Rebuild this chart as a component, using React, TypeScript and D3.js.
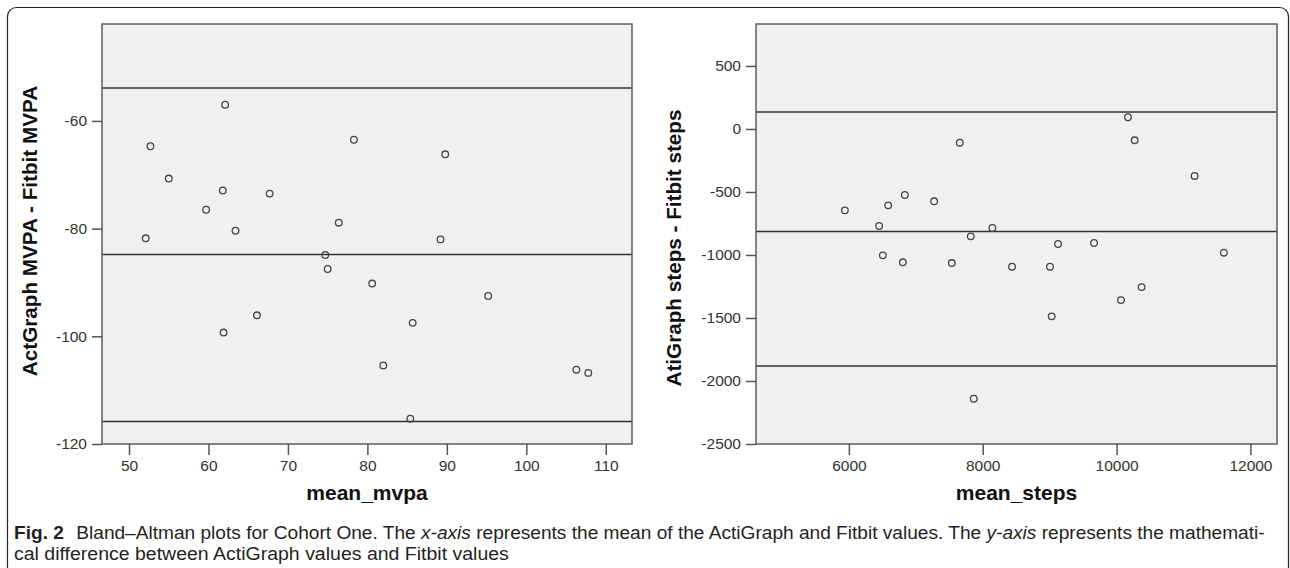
import { useEffect, useRef } from "react";
import * as d3 from "d3";

// left panel: mean of ActiGraph and Fitbit MVPA vs difference
const mvpaMean = [52.7, 62.1, 55.0, 61.8, 67.7, 59.7, 63.4, 76.4, 78.3, 89.8, 52.1, 89.2, 74.7, 75.0, 80.6, 66.1, 61.9, 85.7, 82.0, 85.4, 95.2, 106.3, 107.8];
const mvpaDiff = [-64.7, -57.0, -70.7, -72.9, -73.5, -76.5, -80.4, -78.9, -63.5, -66.2, -81.8, -82.0, -84.9, -87.5, -90.2, -96.1, -99.3, -97.5, -105.4, -115.3, -92.5, -106.2, -106.8];
const mvpaLimits = [-53.9, -84.8, -115.8];
const mvpaXTicks = [50, 60, 70, 80, 90, 100, 110];
const mvpaYTicks = [-60, -80, -100, -120];

// right panel: steps
const stepsMean = [5940, 6587, 6836, 7274, 6452, 7657, 6507, 6806, 7538, 7821, 10170, 10270, 11166, 8144, 9125, 9663, 11603, 8438, 9005, 10374, 10066, 9030, 7866];
const stepsDiff = [-646, -606, -524, -574, -770, -109, -1003, -1058, -1064, -852, 93, -90, -373, -786, -913, -905, -982, -1093, -1093, -1255, -1358, -1487, -2141];
const stepsLimits = [135, -813, -1881];
const stepsXTicks = [6000, 8000, 10000, 12000];
const stepsYTicks = [500, 0, -500, -1000, -1500, -2000, -2500];

const FONT = "'Liberation Sans', Arial, sans-serif";
const CAP_FONT = "'Liberation Sans Narrow', 'Liberation Sans', Arial, sans-serif";

function drawPanel(svg, p) {
    const x = d3.scaleLinear().domain(p.xDomain).range([p.left, p.right]);
    const y = d3.scaleLinear().domain(p.yDomain).range([p.bottom, p.top]);
    const g = svg.append("g");

    g.append("rect")
        .attr("x", p.left).attr("y", p.top)
        .attr("width", p.right - p.left).attr("height", p.bottom - p.top)
        .attr("fill", "#f0f0f0");

    // limits of agreement + mean difference
    g.selectAll(".ref").data(p.limits).enter().append("line")
        .attr("x1", p.left).attr("x2", p.right)
        .attr("y1", d => y(d)).attr("y2", d => y(d))
        .attr("stroke", "#333").attr("stroke-width", 1.5);

    g.selectAll(".pt").data(p.xs).enter().append("circle")
        .attr("cx", d => x(d))
        .attr("cy", (d, i) => y(p.ys[i]))
        .attr("r", 3.3)
        .attr("fill", "none")
        .attr("stroke", "#444")
        .attr("stroke-width", 1.3);

    g.append("rect")
        .attr("x", p.left).attr("y", p.top)
        .attr("width", p.right - p.left).attr("height", p.bottom - p.top)
        .attr("fill", "none").attr("stroke", "#666").attr("stroke-width", 1.6);

    const yAxis = g.append("g")
        .attr("transform", `translate(${p.left},0)`)
        .call(d3.axisLeft(y).tickValues(p.yTicks).tickSize(10).tickPadding(5).tickFormat(d => String(d)));
    const xAxis = g.append("g")
        .attr("transform", `translate(0,${p.bottom})`)
        .call(d3.axisBottom(x).tickValues(p.xTicks).tickSize(11).tickPadding(5).tickFormat(d => String(d)));

    [yAxis, xAxis].forEach(ax => {
        ax.select(".domain").remove();
        ax.selectAll("line").attr("stroke", "#555").attr("stroke-width", 1.5);
        ax.selectAll("text")
            .attr("font-family", FONT)
            .attr("font-size", "15.5px")
            .attr("fill", "#333");
    });

    g.append("text")
        .attr("x", (p.left + p.right) / 2)
        .attr("y", 500)
        .attr("text-anchor", "middle")
        .attr("font-family", FONT)
        .attr("font-weight", "bold")
        .attr("font-size", "21px")
        .attr("fill", "#111")
        .text(p.xTitle);

    g.append("text")
        .attr("transform", `translate(${p.yTitleX},${p.yTitleY}) rotate(-90)`)
        .attr("text-anchor", "middle")
        .attr("font-family", FONT)
        .attr("font-weight", "bold")
        .attr("font-size", "20.7px")
        .attr("fill", "#111")
        .text(p.yTitle);
}

export default function App() {
    const ref = useRef(null);

    useEffect(() => {
        const svg = d3.select(ref.current);
        svg.selectAll("*").remove();

        svg.append("rect")
            .attr("width", 1290).attr("height", 568).attr("fill", "#fff");

        // outer figure frame
        svg.append("rect")
            .attr("x", 7.5).attr("y", 7.5)
            .attr("width", 1281).attr("height", 600)
            .attr("rx", 9)
            .attr("fill", "none").attr("stroke", "#222").attr("stroke-width", 1.2);

        drawPanel(svg, {
            left: 102, right: 632, top: 24, bottom: 444,
            xDomain: [46.6, 113.3], yDomain: [-120, -42],
            xs: mvpaMean, ys: mvpaDiff, limits: mvpaLimits,
            xTicks: mvpaXTicks, yTicks: mvpaYTicks,
            xTitle: "mean_mvpa", yTitle: "ActGraph MVPA - Fitbit MVPA",
            yTitleX: 37, yTitleY: 231,
        });

        drawPanel(svg, {
            left: 756, right: 1277, top: 24, bottom: 444,
            xDomain: [4612, 12397], yDomain: [-2500, 833],
            xs: stepsMean, ys: stepsDiff, limits: stepsLimits,
            xTicks: stepsXTicks, yTicks: stepsYTicks,
            xTitle: "mean_steps", yTitle: "AtiGraph steps - Fitbit steps",
            yTitleX: 681, yTitleY: 248,
        });

        // caption, fitted horizontally to the condensed look of the original
        const cap1 = svg.append("text")
            .attr("font-family", CAP_FONT)
            .attr("font-size", "18.5px")
            .attr("fill", "#231f20");
        cap1.append("tspan").attr("font-weight", "bold").text("Fig. 2");
        cap1.append("tspan").attr("dx", 12).text("Bland–Altman plots for Cohort One. The ");
        cap1.append("tspan").attr("font-style", "italic").text("x-axis");
        cap1.append("tspan").text(" represents the mean of the ActiGraph and Fitbit values. The ");
        cap1.append("tspan").attr("font-style", "italic").text("y-axis");
        cap1.append("tspan").text(" represents the mathemati-");

        const cap2 = svg.append("text")
            .attr("font-family", CAP_FONT)
            .attr("font-size", "18.5px")
            .attr("fill", "#231f20")
            .text("cal difference between ActiGraph values and Fitbit values");

        const w1 = cap1.node().getComputedTextLength();
        const w2 = cap2.node().getComputedTextLength();
        cap1.attr("transform", `translate(14,539) scale(${1239 / w1},1)`);
        cap2.attr("transform", `translate(14,560) scale(${495 / w2},1)`);
    }, []);

    return (
        <svg ref={ref} width={1290} height={568}
            style={{ position: "absolute", left: 0, top: 0 }} />
    );
}
